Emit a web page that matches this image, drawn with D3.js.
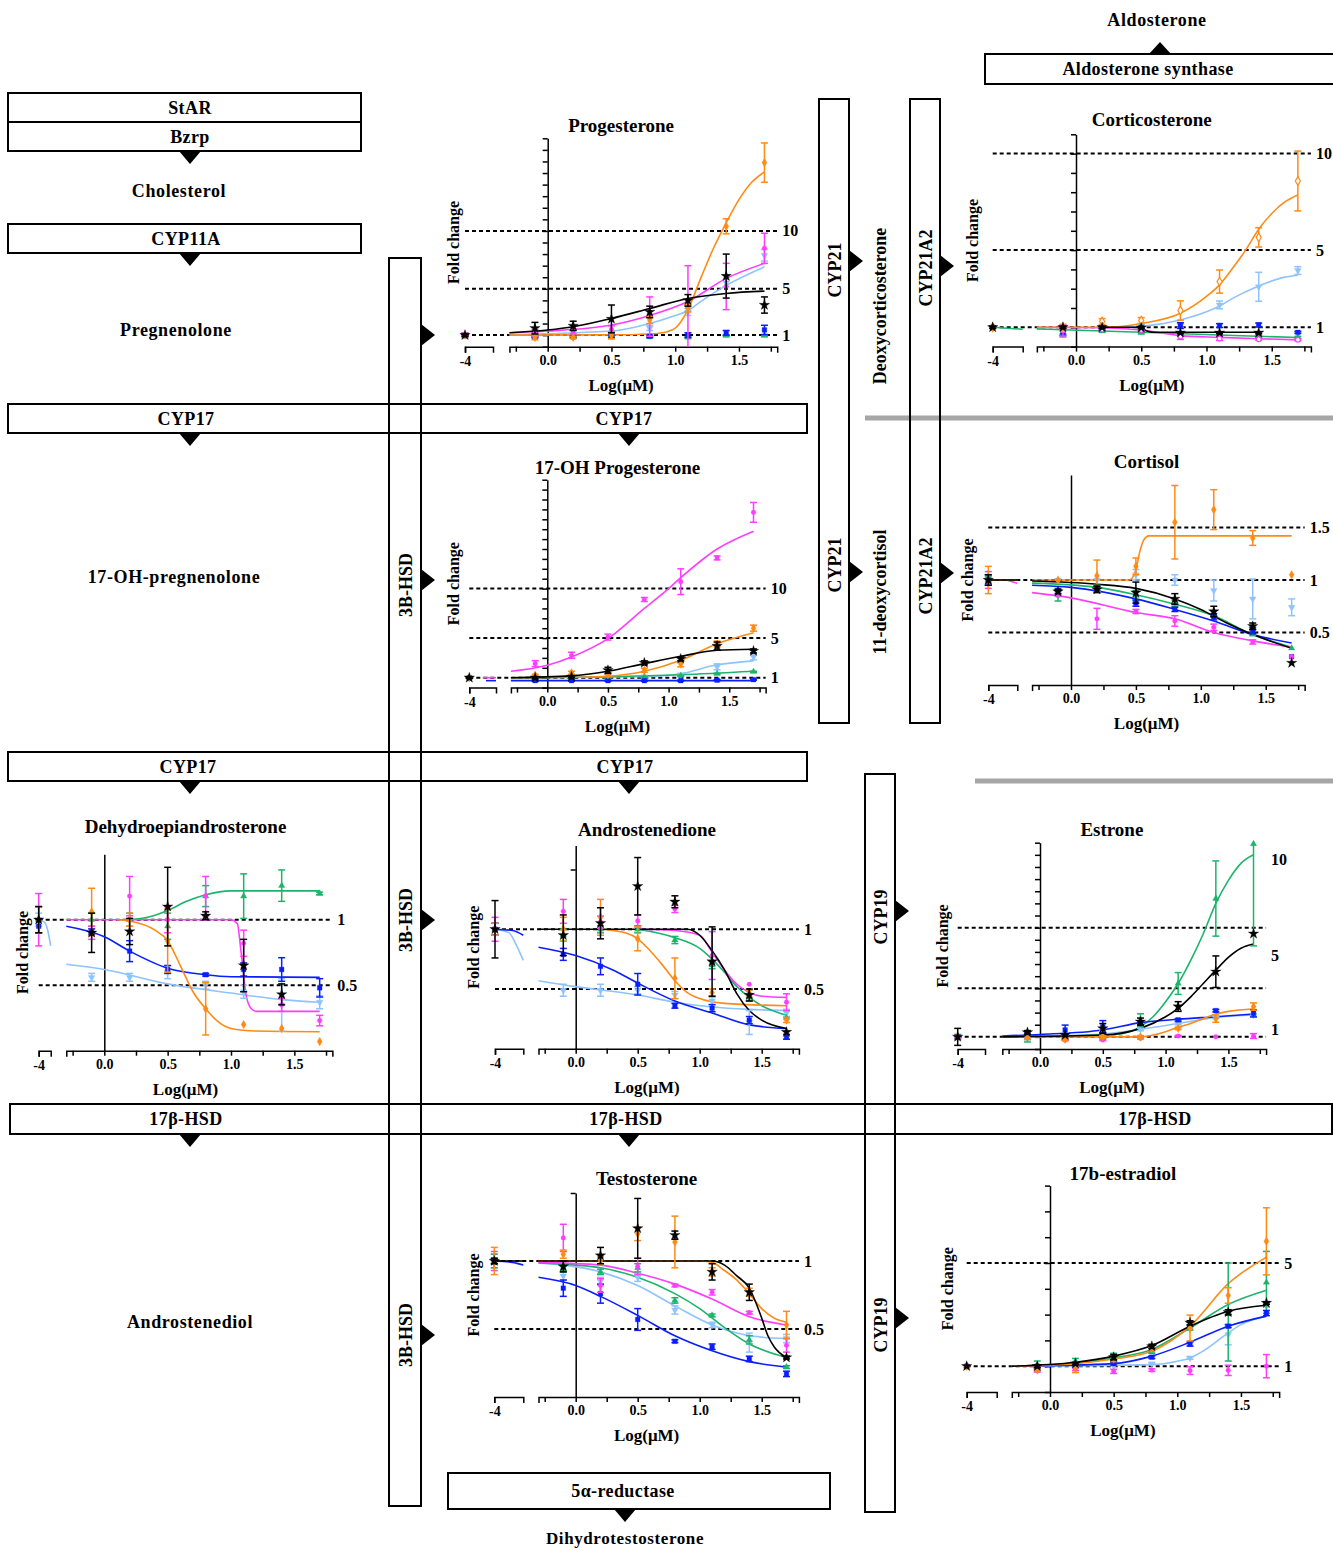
<!DOCTYPE html>
<html><head><meta charset="utf-8">
<script src="https://cdnjs.cloudflare.com/ajax/libs/d3/7.8.5/d3.min.js"></script>
<style>
body{margin:0;background:#fff}
svg{display:block}
text{font-family:"Liberation Serif","Times New Roman",serif;font-weight:bold;fill:#000}
</style></head>
<body><svg id="fig" width="1333" height="1550"></svg>
<script>
// ---------------- DATA ----------------
const doses = [-4, -0.1, 0.2, 0.5, 0.8, 1.1, 1.4, 1.7];
const xTickValues = [-0.25, 0, 0.25, 0.5, 0.75, 1, 1.25, 1.5, 1.75];
const xTickLabels = {"0": "0.0", "0.5": "0.5", "1": "1.0", "1.5": "1.5"};
const seriesOrder = ["lightblue", "green", "blue", "magenta", "orange", "black"];

// Progesterone
const progMeans = {
  black:[1.0,1.6,1.8,2.4,3.0,4.0,6.1,3.6], orange:[1.0,0.8,0.8,1.0,2.3,3.3,10.4,15.9],
  magenta:[1.0,1.2,1.3,1.5,2.6,3.4,5.2,8.5], lightblue:[1.0,1.0,1.0,1.1,1.6,3.0,5.5,7.9],
  blue:[1.0,0.9,0.85,0.9,0.9,1.0,1.2,1.45], green:[1.0,0.85,0.85,0.8,0.85,0.8,0.95,0.95]};
const progErr = {
  black:[0.1,0.5,0.4,1.2,0.5,0.5,1.9,0.7], orange:[0.1,0.2,0.1,0.3,0.3,0.3,0.65,1.7],
  magenta:[0.2,0.3,0.2,0.3,1.7,3.6,2.0,1.3], lightblue:[0.2,0.1,0.1,0.1,0.2,0.3,0.3,0.5],
  blue:[0.1,0.1,0.1,0.1,0.1,0.2,0.2,0.4], green:[0.05,0.05,0.05,0.05,0.05,0.05,0.05,0.05]};
const progFits = {
  black:[[-0.3,1.2],[0,1.44],[0.2,1.72],[0.5,2.44],[0.8,3.3],[1.1,4.17],[1.4,4.6],[1.7,4.8]],
  orange:[[-0.3,1.0],[0.5,1.02],[0.8,1.1],[0.9,1.2],[1.0,1.6],[1.1,3.2],[1.2,5.9],[1.3,8.5],[1.4,10.7],[1.5,12.7],[1.6,14.2],[1.7,15.1]],
  magenta:[[-0.3,1.2],[0,1.35],[0.5,1.87],[0.8,2.7],[1.1,3.9],[1.4,5.9],[1.7,7.2]],
  lightblue:[[-0.3,1.05],[0.5,1.35],[0.8,2.0],[1.0,2.7],[1.1,3.1],[1.2,3.9],[1.4,5.3],[1.7,6.9]]};
const progLeftFits = {};

// Corticosterone
const corticoMeans = {
  black:[1.0,1.0,1.0,0.98,0.72,0.72,0.72,null], orange:[1.0,1.0,1.3,1.35,1.87,3.37,5.66,8.58],
  lightblue:[1.0,0.85,1.0,1.05,1.1,2.16,3.1,3.94], blue:[1.0,0.74,0.9,1.0,1.09,1.09,1.12,0.74],
  green:[1.0,0.75,0.8,0.72,0.68,0.62,0.55,0.48], magenta:[1.0,0.85,0.88,0.86,0.52,0.42,0.38,0.35]};
const corticoErr = {
  black:[0.05,0.05,0.05,0.05,0.05,0.05,0.05,0], orange:[0,0.1,0.15,0.15,0.5,0.6,0.5,1.55],
  lightblue:[0,0.2,0.1,0.1,0.1,0.2,0.75,0.2], blue:[0,0.15,0.05,0.05,0.15,0.1,0.1,0.05],
  green:[0,0.25,0.05,0.05,0.05,0.05,0.05,0.05], magenta:[0,0.3,0.05,0.05,0.15,0.1,0.05,0.05]};
const corticoFits = {
  orange:[[-0.3,1.0],[0.2,1.0],[0.5,1.2],[0.8,1.73],[1.0,2.6],[1.1,3.2],[1.2,4.06],[1.3,5.0],[1.4,6.08],[1.5,6.9],[1.6,7.5],[1.7,7.86]],
  lightblue:[[0.3,1.0],[0.5,1.05],[0.8,1.38],[1.0,1.8],[1.1,2.1],[1.2,2.5],[1.4,3.14],[1.6,3.6],[1.7,3.7]],
  black:[[0.2,1.0],[0.45,1.0],[0.5,0.95],[0.55,0.8],[0.6,0.74],[1.4,0.74]],
  green:[[-0.3,0.92],[0.5,0.74],[1.1,0.6],[1.7,0.47]],
  magenta:[[-0.3,1.0],[0.2,0.98],[0.5,0.86],[0.8,0.57],[1.1,0.48],[1.4,0.41],[1.7,0.35]]};
const corticoLeftFits = {green:[[-4,1.0],[-3.6,0.9]]};

// 17-OH Progesterone
const ohpMeans = {
  magenta:[1.0,2.42,3.27,5.1,8.9,10.7,13.1,17.7], orange:[1.0,1.25,1.5,1.3,1.75,2.4,4.4,6.0],
  black:[1.0,1.0,1.1,1.75,2.5,2.9,4.2,3.7], lightblue:[1.0,1.0,1.0,1.0,1.1,1.3,2.1,3.1],
  green:[1.0,1.0,1.0,1.0,1.1,1.2,1.4,1.6], blue:[1.0,0.7,0.7,0.7,0.7,0.7,0.75,0.8]};
const ohpErr = {
  magenta:[0,0.3,0.3,0.3,0.2,1.3,0.2,1.0], orange:[0,0.1,0.15,0.2,0.2,0.3,0.3,0.3],
  black:[0.05,0.1,0.1,0.3,0.2,0.2,0.4,0.2], lightblue:[0,0,0,0,0.1,0.1,0.3,0.3],
  green:[0.05,0.05,0.05,0.05,0.05,0.05,0.05,0.05], blue:[0.05,0.05,0.05,0.05,0.05,0.05,0.05,0.05]};
const ohpFits = {
  magenta:[[-0.3,1.65],[0,2.26],[0.2,3.1],[0.5,4.95],[0.8,8.0],[1.0,10.0],[1.1,11.1],[1.4,14.0],[1.7,15.8]],
  orange:[[-0.3,1.0],[0.3,1.05],[0.5,1.14],[0.8,1.65],[1.1,2.76],[1.4,4.44],[1.7,5.55]],
  black:[[-0.3,1.0],[0.2,1.18],[0.5,1.65],[0.8,2.42],[1.1,3.16],[1.4,3.77],[1.7,3.87]],
  lightblue:[[-0.3,1.0],[0.8,1.1],[1.1,1.4],[1.4,2.3],[1.7,2.7]],
  green:[[-0.3,1.0],[0.5,1.1],[1.1,1.3],[1.7,1.65]],
  blue:[[-0.3,0.7],[1.7,0.7]]};
const ohpLeftFits = {blue:[[-3.75,0.7],[-3.6,0.7]], magenta:[[-3.8,1.0],[-3.6,1.0]]};

// Cortisol
const cortisolMeans = {
  orange:[1.0,1.0,1.04,1.13,1.55,1.67,1.4,1.05], lightblue:[1.0,1.0,1.0,1.05,1.0,0.9,0.82,0.74],
  black:[1.0,0.89,0.91,0.88,0.82,0.7,0.56,0.21], green:[1.0,0.86,0.92,0.85,0.78,0.68,0.5,0.35],
  blue:[1.0,0.9,0.92,0.78,0.72,0.65,0.52,0.27], magenta:[1.0,0.85,0.63,0.7,0.61,0.55,0.41,0.27]};
const cortisolErr = {
  orange:[0.13,0,0.15,0.08,0.35,0.19,0.07,0], lightblue:[0.05,0,0,0.05,0.05,0.1,0.19,0.08],
  black:[0.05,0.02,0.03,0.1,0.05,0.05,0.03,0], green:[0.03,0.06,0.03,0.05,0.03,0.03,0.03,0],
  blue:[0.05,0,0.02,0.03,0.02,0.03,0.03,0], magenta:[0.08,0,0.1,0.02,0.05,0.03,0.02,0]};
const cortisolFits = {
  orange:[[-0.3,1.0],[0.45,1.0],[0.5,1.1],[0.53,1.27],[0.56,1.38],[0.6,1.42],[1.7,1.42]],
  black:[[-0.3,0.99],[0.2,0.96],[0.5,0.92],[0.8,0.82],[1.0,0.72],[1.2,0.59],[1.4,0.48],[1.7,0.35]],
  green:[[-0.3,0.97],[0.2,0.93],[0.5,0.86],[0.8,0.77],[1.1,0.66],[1.4,0.48],[1.7,0.36]],
  blue:[[-0.3,0.95],[0,0.93],[0.5,0.82],[0.8,0.72],[1.1,0.61],[1.4,0.48],[1.7,0.4]],
  magenta:[[-0.3,0.88],[0,0.83],[0.5,0.69],[0.8,0.63],[1.1,0.5],[1.4,0.42],[1.7,0.36]]};
const cortisolLeftFits = {orange:[[-4,1],[-3.6,1]], black:[[-4,1],[-3.6,1]], magenta:[[-3.75,1.0],[-3.6,0.97]]};

// Dehydroepiandrosterone
const dheaMeans = {
  green:[1.0,1.0,1.0,0.95,1.18,1.18,1.26,1.2], magenta:[1.0,0.9,1.18,1.0,1.18,0.82,0.35,0.23],
  orange:[1.0,1.06,1.0,0.84,0.32,0.2,0.17,0.07], blue:[0.95,0.91,0.76,0.62,0.58,0.62,0.62,0.48],
  lightblue:[1.0,0.56,0.56,0.6,0.5,0.45,0.35,0.37], black:[1.0,0.9,0.91,1.1,1.03,0.65,0.43,null]};
const dheaErr = {
  green:[0.1,0.05,0.05,0.1,0.08,0.17,0.12,0.01], magenta:[0.2,0.05,0.15,0.1,0.15,0.1,0.05,0.04],
  orange:[0.1,0.18,0.05,0.24,0.2,0,0,0], blue:[0.05,0.02,0.08,0.03,0.01,0.05,0.09,0.07],
  lightblue:[0.05,0.03,0.03,0.05,0.03,0.05,0.2,0.05], black:[0.1,0.15,0.1,0.3,0.03,0.2,0.08,0]};
const dheaFits = {
  green:[[0.2,1.0],[0.35,1.02],[0.5,1.07],[0.65,1.14],[0.8,1.19],[1.0,1.22],[1.7,1.22]],
  magenta:[[-0.3,1.0],[1.0,1.0],[1.05,0.97],[1.08,0.75],[1.12,0.42],[1.16,0.32],[1.2,0.3],[1.7,0.3]],
  orange:[[0.1,1.0],[0.2,0.99],[0.4,0.92],[0.5,0.84],[0.6,0.65],[0.7,0.45],[0.8,0.32],[0.9,0.22],[1.0,0.17],[1.2,0.15],[1.7,0.145]],
  blue:[[-0.3,0.95],[0,0.87],[0.2,0.76],[0.5,0.63],[0.8,0.58],[1.0,0.565],[1.7,0.56]],
  lightblue:[[-0.3,0.66],[0,0.62],[0.5,0.51],[1.0,0.44],[1.4,0.39],[1.7,0.37]]};
const dheaLeftFits = {lightblue:[[-4,1.0],[-3.8,0.98],[-3.7,0.92],[-3.6,0.8]]};

// Androstenedione
const androMeans = {
  black:[1.0,0.95,1.05,1.36,1.23,0.73,0.45,0.14], magenta:[1.0,1.15,1.06,1.07,1.17,0.78,0.54,0.39],
  green:[1.0,0.95,1.0,1.0,0.91,0.7,0.43,0.26], orange:[1.0,1.0,1.1,0.92,0.59,0.47,0.46,0.24],
  blue:[1.0,0.79,0.69,0.54,0.36,0.34,0.24,0.1], lightblue:[1.0,0.49,0.49,0.49,0.45,0.4,0.22,0.3]};
const androErr = {
  black:[0.24,0.17,0.13,0.24,0.05,0.29,0.05,0], magenta:[0.1,0.1,0.05,0.05,0.03,0.2,0,0.07],
  green:[0.05,0.05,0.03,0.03,0.03,0.03,0.03,0], orange:[0.05,0.1,0.15,0.1,0.17,0.03,0.03,0.02],
  blue:[0.05,0.05,0.07,0.09,0.02,0.03,0.03,0.02], lightblue:[0.05,0.05,0.05,0.03,0.03,0.03,0.1,0.03]};
const androFits = {
  black:[[-0.3,1.0],[0.9,1.0],[1.0,0.95],[1.1,0.82],[1.2,0.66],[1.3,0.46],[1.4,0.32],[1.5,0.24],[1.7,0.17]],
  magenta:[[0.5,1.0],[0.8,0.99],[1.0,0.95],[1.1,0.81],[1.2,0.66],[1.3,0.54],[1.4,0.47],[1.5,0.44],[1.7,0.43]],
  green:[[0.5,1.0],[0.8,0.93],[1.0,0.84],[1.1,0.75],[1.2,0.64],[1.3,0.52],[1.4,0.43],[1.5,0.36],[1.7,0.28]],
  orange:[[0.2,1.0],[0.4,0.97],[0.5,0.92],[0.6,0.82],[0.7,0.7],[0.8,0.57],[0.9,0.47],[1.0,0.42],[1.2,0.38],[1.7,0.36]],
  blue:[[-0.3,0.85],[0,0.78],[0.3,0.66],[0.5,0.55],[0.8,0.4],[1.1,0.3],[1.4,0.2],[1.7,0.17]],
  lightblue:[[-0.3,0.57],[0,0.52],[0.5,0.45],[0.8,0.39],[1.1,0.35],[1.4,0.33],[1.7,0.32]]};
const androLeftFits = {blue:[[-4,1.0],[-3.75,0.99],[-3.6,0.95]], lightblue:[[-4,1.0],[-3.8,0.97],[-3.7,0.87],[-3.6,0.74]]};

// Estrone
const estroneMeans = {
  green:[1.0,0.88,1.0,1.0,2.4,5.4,12.4,16.9], black:[1.0,1.37,1.15,1.7,2.25,3.5,6.37,9.5],
  blue:[1.0,1.2,1.57,1.84,2.1,2.4,3.16,2.94], lightblue:[1.0,1.0,1.2,1.4,1.6,2.1,2.6,2.8],
  orange:[1.0,1.0,0.8,1.0,1.0,1.7,2.5,3.5], magenta:[1.0,1.0,0.74,0.74,0.88,1.07,1.0,1.07]};
const estroneErr = {
  green:[0.2,0.3,0.1,0.1,0.5,0.9,3.1,8.4], black:[0.7,0.15,0.1,0.4,0.3,0.4,1.3,0],
  blue:[0,0.1,0.4,0.5,0.1,0.1,0.1,0.3], lightblue:[0.1,0.1,0.1,0.1,0.1,0.1,0.1,0.1],
  orange:[0,0.2,0.1,0.1,0.1,0.1,0.3,0.3], magenta:[0.1,0.2,0.05,0.05,0.05,0.05,0,0.2]};
const estroneFits = {
  green:[[-0.3,1.0],[0.6,1.2],[0.8,1.84],[0.9,2.66],[1.0,3.9],[1.1,5.4],[1.2,7.3],[1.3,9.5],[1.4,12.0],[1.5,13.9],[1.6,15.3],[1.7,16.0]],
  black:[[-0.3,1.0],[0.5,1.15],[0.8,1.7],[1.0,2.66],[1.1,3.35],[1.2,4.3],[1.3,5.4],[1.4,6.5],[1.5,7.55],[1.6,8.3],[1.7,8.65]],
  blue:[[-0.3,1.07],[0,1.2],[0.5,1.57],[0.8,2.17],[1.1,2.45],[1.4,2.66],[1.7,2.88]],
  lightblue:[[-0.3,1.0],[0.5,1.24],[0.8,1.62],[1.1,2.1],[1.4,2.6],[1.7,2.8]],
  orange:[[-0.3,1.0],[0.8,1.0],[0.9,1.15],[1.0,1.43],[1.1,1.79],[1.2,2.1],[1.3,2.5],[1.4,2.88],[1.5,3.1],[1.7,3.3]]};
const estroneLeftFits = {};

// Testosterone
const testoMeans = {
  black:[1.0,0.96,1.04,1.24,1.19,0.92,0.77,0.29], orange:[1.0,1.05,1.0,1.2,1.14,0.92,0.77,0.53],
  magenta:[1.0,1.17,0.82,0.96,0.82,0.77,0.62,0.38], green:[1.0,0.94,0.92,0.95,0.71,0.6,0.42,0.22],
  lightblue:[1.0,0.89,0.85,0.88,0.64,0.53,0.4,0.43], blue:[1.0,0.8,0.76,0.57,0.41,0.37,0.28,0.17]};
const testoErr = {
  black:[0.02,0.04,0.06,0.22,0.03,0.06,0.06,0.01], orange:[0.1,0.03,0.03,0.05,0.19,0.03,0.03,0.1],
  magenta:[0.07,0.1,0.05,0.06,0.01,0.02,0.01,0.05], green:[0.05,0.02,0.02,0.03,0.02,0.01,0.03,0.01],
  lightblue:[0.05,0.03,0.03,0.03,0.03,0.02,0.07,0.03], blue:[0.02,0.06,0.07,0.08,0.01,0.02,0.02,0.02]};
const testoFits = {
  black:[[-0.3,1.0],[1.1,1.0],[1.2,0.97],[1.3,0.89],[1.4,0.8],[1.45,0.7],[1.5,0.58],[1.55,0.45],[1.6,0.37],[1.7,0.29]],
  orange:[[-0.3,1.0],[1.0,1.0],[1.1,0.99],[1.2,0.93],[1.3,0.86],[1.4,0.76],[1.5,0.65],[1.6,0.58],[1.7,0.55]],
  magenta:[[-0.3,0.99],[0.2,0.97],[0.5,0.91],[0.8,0.83],[1.1,0.72],[1.4,0.59],[1.7,0.53]],
  green:[[-0.3,0.985],[0,0.97],[0.2,0.95],[0.5,0.88],[0.8,0.76],[1.0,0.65],[1.2,0.51],[1.4,0.39],[1.7,0.29]],
  lightblue:[[-0.3,0.985],[0.2,0.92],[0.5,0.82],[0.8,0.67],[1.1,0.53],[1.3,0.47],[1.5,0.44],[1.7,0.43]],
  blue:[[-0.3,0.88],[0,0.82],[0.2,0.74],[0.5,0.6],[0.8,0.45],[1.1,0.34],[1.4,0.26],[1.7,0.22]]};
const testoLeftFits = {blue:[[-4,1],[-3.75,0.99],[-3.6,0.97]], black:[[-4,1],[-3.6,1]]};

// 17b-estradiol
const e2Means = {
  orange:[1.0,0.85,0.95,1.28,1.7,2.48,3.74,5.84], green:[1.0,1.05,1.2,1.35,1.6,2.5,3.1,4.25],
  black:[1.0,1.0,1.1,1.35,1.77,2.68,3.09,3.45], blue:[1.0,1.0,1.0,1.1,1.35,1.86,2.55,3.06],
  lightblue:[1.0,0.9,1.0,1.0,1.1,1.32,2.23,3.35], magenta:[1.0,0.87,0.88,0.8,0.85,0.83,0.84,1.0]};
const e2Err = {
  orange:[0,0.05,0.2,0.1,0.1,0.5,0.3,1.3], green:[0,0.15,0.1,0.15,0.1,0.1,1.9,1.2],
  black:[0,0.05,0.05,0.1,0.08,0.08,0.1,0.05], blue:[0,0,0,0.05,0.05,0.08,0.05,0.1],
  lightblue:[0,0.05,0,0,0.03,0.05,0.4,0.05], magenta:[0,0.1,0.05,0.08,0.05,0.15,0.2,0.45]};
const e2Fits = {
  orange:[[-0.3,1.0],[0.2,1.1],[0.5,1.28],[0.8,1.58],[1.1,2.55],[1.4,4.2],[1.7,5.23]],
  green:[[-0.3,1.0],[0.2,1.13],[0.5,1.32],[0.8,1.65],[1.1,2.48],[1.4,3.39],[1.7,3.94]],
  black:[[-0.3,1.0],[0.2,1.15],[0.5,1.39],[0.8,1.8],[1.1,2.55],[1.4,3.13],[1.7,3.36]],
  blue:[[-0.3,1.0],[0.5,1.1],[0.8,1.39],[1.1,1.93],[1.4,2.55],[1.7,2.94]],
  lightblue:[[-0.3,1.0],[0.8,1.06],[1.0,1.19],[1.1,1.32],[1.2,1.58],[1.4,2.29],[1.5,2.61],[1.7,2.94]]};
const e2LeftFits = {};

// ---------------- STYLE / LAYOUT ----------------
const seriesColor = {black:"#000000", orange:"#ff8a14", magenta:"#ff3dff", lightblue:"#8ec3ff", blue:"#0a1eff", green:"#1cb46a"};
const seriesSymbol = {black:d3.symbolStar, orange:d3.symbolDiamond, magenta:d3.symbolCircle, lightblue:d3.symbolTriangle, blue:d3.symbolSquare, green:d3.symbolTriangle};
const seriesSymbolSize = {black:34, orange:22, magenta:17, lightblue:20, blue:22, green:18};

const panels = [
  {title:"Progesterone", means:progMeans, errs:progErr, fits:progFits, leftFits:progLeftFits,
   leftStart:465, leftEnd:493, x0:547.7, ppu:127.5, yDomain:[0,18], yRange:[346.7,138.3],
   refs:[1,5,10], refLabels:["1","5","10"], yTicks:d3.range(0,19), titleY:132, foldDx:12},
  {title:"Corticosterone", means:corticoMeans, errs:corticoErr, fits:corticoFits, leftFits:corticoLeftFits, open:true,
   leftStart:992.7, leftEnd:1022.7, x0:1076, ppu:130.5, yDomain:[0,11], yRange:[346.6,134.3],
   refs:[1,5,10], refLabels:["1","5","10"], yTicks:d3.range(0,12), titleY:126, foldDx:20},
  {title:"17-OH Progesterone", means:ohpMeans, errs:ohpErr, fits:ohpFits, leftFits:ohpLeftFits,
   leftStart:469.3, leftEnd:496, x0:547.3, ppu:121.3, yDomain:[0,21], yRange:[687.6,479.7],
   refs:[1,5,10], refLabels:["1","5","10"], yTicks:d3.range(0,22), titleY:474, foldDx:16},
  {title:"Cortisol", means:cortisolMeans, errs:cortisolErr, fits:cortisolFits, leftFits:cortisolLeftFits,
   leftStart:988.3, leftEnd:1017.3, x0:1071, ppu:129.8, yDomain:[0,2], yRange:[685,475],
   refs:[0.5,1,1.5], refLabels:["0.5","1","1.5"], yTicks:[], titleY:468, foldDx:21},
  {title:"Dehydroepiandrosterone", means:dheaMeans, errs:dheaErr, fits:dheaFits, leftFits:dheaLeftFits,
   leftStart:38.7, leftEnd:50.7, x0:104.3, ppu:126.7, yDomain:[0,1.5], yRange:[1050.7,854.2],
   refs:[0.5,1], refLabels:["0.5","1"], yTicks:[], titleY:833, foldDx:16},
  {title:"Androstenedione", means:androMeans, errs:androErr, fits:androFits, leftFits:androLeftFits,
   leftStart:495, leftEnd:523.3, x0:575.7, ppu:124, yDomain:[0,1.7], yRange:[1048.8,845.6],
   refs:[0.5,1], refLabels:["0.5","1"], yTicks:[1.5], titleY:836, foldDx:22},
  {title:"Estrone", means:estroneMeans, errs:estroneErr, fits:estroneFits, leftFits:estroneLeftFits,
   leftStart:957.7, leftEnd:985, x0:1040, ppu:125.6, yDomain:[0,17], yRange:[1049,842.7],
   refs:[1,5,10], refLabels:["1","5","10"], refLabelPos:[1.6,7.7,15.6], yTicks:d3.range(0,18), titleY:836, foldDx:15},
  {title:"Testosterone", means:testoMeans, errs:testoErr, fits:testoFits, leftFits:testoLeftFits,
   leftStart:494.3, leftEnd:523.3, x0:575.7, ppu:124, yDomain:[0,1.5], yRange:[1397,1193],
   refs:[0.5,1], refLabels:["0.5","1"], yTicks:[1.5], titleY:1185, foldDx:21},
  {title:"17b-estradiol", means:e2Means, errs:e2Err, fits:e2Fits, leftFits:e2LeftFits,
   leftStart:966.7, leftEnd:996.7, x0:1050, ppu:127.3, yDomain:[0,8], yRange:[1392,1185.6],
   refs:[1,5], refLabels:["1","5"], yTicks:d3.range(0,9), titleY:1180, foldDx:19}
];

// diagram layout
const hBoxes = [
  {x:8,y:93,w:353,h:29,labels:[["StAR",190]]},
  {x:8,y:122,w:353,h:29,labels:[["Bzrp",190]]},
  {x:8,y:224,w:353,h:29,labels:[["CYP11A",186]]},
  {x:8,y:404,w:799,h:29,labels:[["CYP17",186],["CYP17",624]]},
  {x:8,y:752,w:799,h:29,labels:[["CYP17",188],["CYP17",625]]},
  {x:10,y:1104,w:1322,h:30,labels:[["17β-HSD",186],["17β-HSD",626],["17β-HSD",1155]]},
  {x:448,y:1473,w:382,h:36,labels:[["5α-reductase",623]]},
  {x:985,y:54,w:360,h:30,labels:[["Aldosterone synthase",1148]]}
];
const vBoxes = [
  {x:389,y:258,w:32,h:1248,label:"3B-HSD",at:[585,920,1335]},
  {x:819,y:99,w:30,h:624,label:"CYP21",at:[270,565]},
  {x:910,y:99,w:30,h:624,label:"CYP21A2",at:[268,576]},
  {x:865,y:774,w:30,h:738,label:"CYP19",at:[917,1325]}
];
const metaboliteLabels = [
  ["Cholesterol",179,191,18],["Pregnenolone",176,330,18],["17-OH-pregnenolone",174,577,18],
  ["Androstenediol",190,1322,18],["Dihydrotestosterone",625,1538,17],["Aldosterone",1157,20,18]
];
const rotatedLabels = [["Deoxycorticosterone",880,306],["11-deoxycortisol",880,592]];
const grayLines = [[865,418,1333,418],[975,781,1333,781]];
const downArrows = [[190,151],[190,253],[190,433],[629,433],[190,781],[629,781],[190,1134],[629,1134],[625,1509]];
const upArrows = [[1160,54]];
const rightArrows = [[421,335],[421,580],[421,920],[421,1335],[849,261],[849,572],[940,266],[940,573],[895,911],[895,1318]];

// ---------------- DRAW ----------------
const svg = d3.select("#fig");
svg.append("rect").attr("width",1333).attr("height",1550).attr("fill","#fff");

grayLines.forEach(l => svg.append("line").attr("x1",l[0]).attr("y1",l[1]).attr("x2",l[2]).attr("y2",l[3])
  .attr("stroke","#a6a6a6").attr("stroke-width",5));

hBoxes.forEach(b => {
  svg.append("rect").attr("x",b.x).attr("y",b.y).attr("width",b.w).attr("height",b.h)
    .attr("fill","none").attr("stroke","#000").attr("stroke-width",2);
  b.labels.forEach(l => svg.append("text").attr("x",l[1]).attr("y",b.y+b.h/2)
    .attr("text-anchor","middle").attr("dominant-baseline","central").attr("font-size",18)
    .attr("letter-spacing",0.4).text(l[0]));
});
vBoxes.forEach(b => {
  svg.append("rect").attr("x",b.x).attr("y",b.y).attr("width",b.w).attr("height",b.h)
    .attr("fill","none").attr("stroke","#000").attr("stroke-width",2);
  b.at.forEach(cy => svg.append("text").attr("transform",`translate(${b.x+b.w/2+1},${cy}) rotate(-90)`)
    .attr("text-anchor","middle").attr("dominant-baseline","central").attr("font-size",18).text(b.label));
});
metaboliteLabels.forEach(m => svg.append("text").attr("x",m[1]).attr("y",m[2])
  .attr("text-anchor","middle").attr("dominant-baseline","central").attr("font-size",m[3])
  .attr("letter-spacing",0.6).text(m[0]));
rotatedLabels.forEach(m => svg.append("text").attr("transform",`translate(${m[1]},${m[2]}) rotate(-90)`)
  .attr("text-anchor","middle").attr("dominant-baseline","central").attr("font-size",18).text(m[0]));

const tri = (pts) => "M" + pts.map(p => p.join(",")).join("L") + "Z";
downArrows.forEach(([x,y]) => svg.append("path").attr("d",tri([[x-11,y],[x+11,y],[x,y+13]])).attr("fill","#000"));
upArrows.forEach(([x,y]) => svg.append("path").attr("d",tri([[x-11,y],[x+11,y],[x,y-12]])).attr("fill","#000"));
rightArrows.forEach(([x,y]) => svg.append("path").attr("d",tri([[x,y-11],[x,y+11],[x+14,y]])).attr("fill","#000"));

function drawPanel(p) {
  const g = svg.append("g");
  const xr = d3.scaleLinear().domain([-0.3,1.8]).range([p.x0-0.3*p.ppu, p.x0+1.8*p.ppu]);
  const xl = d3.scaleLinear().domain([-4,-3.6]).range([p.leftStart,p.leftEnd]);
  const y = d3.scaleLinear().domain(p.yDomain).range(p.yRange);
  const X = v => v <= -3 ? xl(v) : xr(v);
  const yMin = p.yDomain[0], yMax = p.yDomain[1];
  const baseY = y(yMin);
  const cx = (p.leftStart + xr(1.8)) / 2;

  g.append("text").attr("x",cx).attr("y",p.titleY).attr("text-anchor","middle").attr("font-size",19).text(p.title);

  p.refs.forEach((r,i) => {
    g.append("line").attr("x1",p.leftStart).attr("x2",xr(1.8)).attr("y1",y(r)).attr("y2",y(r))
      .attr("stroke","#000").attr("stroke-width",2).attr("stroke-dasharray","4,3");
    const ly = p.refLabelPos ? p.refLabelPos[i] : r;
    g.append("text").attr("x",xr(1.8)+5).attr("y",y(ly)).attr("dominant-baseline","central")
      .attr("font-size",16).text(p.refLabels[i]);
  });

  const styleAxis = sel => {
    sel.selectAll("path,line").attr("stroke","#000").attr("stroke-width",1.5);
    sel.selectAll("text").attr("font-size",14).attr("font-family",'"Liberation Serif","Times New Roman",serif')
      .attr("font-weight","bold").attr("fill","#000");
  };
  const axL = d3.axisBottom(xl).tickValues([-4]).tickFormat(() => "-4").tickSize(6).tickSizeOuter(6);
  g.append("g").attr("transform",`translate(0,${baseY})`).call(axL).call(styleAxis);
  const axR = d3.axisBottom(xr).tickValues(xTickValues).tickFormat(d => xTickLabels[String(d)] || "")
    .tickSize(5).tickSizeOuter(6);
  g.append("g").attr("transform",`translate(0,${baseY})`).call(axR).call(styleAxis);

  const axY = d3.axisLeft(y).tickValues(p.yTicks).tickFormat(() => "").tickSize(5).tickSizeOuter(0);
  g.append("g").attr("transform",`translate(${xr(0)},0)`).call(axY).call(styleAxis);

  g.append("text").attr("x",cx).attr("y",baseY+44).attr("text-anchor","middle").attr("font-size",17).text("Log(μM)");
  g.append("text").attr("transform",`translate(${p.leftStart-p.foldDx},${(p.yRange[0]+p.yRange[1])/2}) rotate(-90)`)
    .attr("text-anchor","middle").attr("dominant-baseline","central").attr("font-size",16).text("Fold change");

  const clampY = v => Math.max(yMin, Math.min(yMax, v));
  const lineR = d3.line().x(d => xr(d[0])).y(d => y(clampY(d[1]))).curve(d3.curveMonotoneX);
  const lineL = d3.line().x(d => xl(d[0])).y(d => y(clampY(d[1]))).curve(d3.curveMonotoneX);

  seriesOrder.forEach(s => {
    if (p.fits[s]) g.append("path").attr("d",lineR(p.fits[s])).attr("fill","none")
      .attr("stroke",seriesColor[s]).attr("stroke-width",1.6);
    if (p.leftFits[s]) g.append("path").attr("d",lineL(p.leftFits[s])).attr("fill","none")
      .attr("stroke",seriesColor[s]).attr("stroke-width",1.6);
  });

  seriesOrder.forEach(s => {
    const m = p.means[s], e = p.errs[s];
    if (!m) return;
    const col = seriesColor[s];
    m.forEach((v,i) => {
      if (v === null) return;
      const px = X(doses[i]);
      const err = e ? e[i] : 0;
      if (err > 0) {
        const y1 = y(clampY(v-err)), y2 = y(clampY(v+err));
        g.append("line").attr("x1",px).attr("x2",px).attr("y1",y1).attr("y2",y2).attr("stroke",col).attr("stroke-width",1.5);
        [[v-err,y1],[v+err,y2]].forEach(([val,yy]) => {
          if (val >= yMin && val <= yMax)
            g.append("line").attr("x1",px-3.5).attr("x2",px+3.5).attr("y1",yy).attr("y2",yy).attr("stroke",col).attr("stroke-width",1.5);
        });
      }
      const rot = s === "lightblue" ? 180 : 0;
      const sym = d3.symbol().type(seriesSymbol[s]).size(seriesSymbolSize[s]);
      const open = p.open && (s === "orange" || s === "magenta");
      g.append("path").attr("d",sym()).attr("transform",`translate(${px},${y(clampY(v))}) rotate(${rot})`)
        .attr("fill",open ? "#fff" : col).attr("stroke",col).attr("stroke-width",open ? 1.2 : 0.3);
    });
  });
}
panels.forEach(drawPanel);
</script>
</body></html>
